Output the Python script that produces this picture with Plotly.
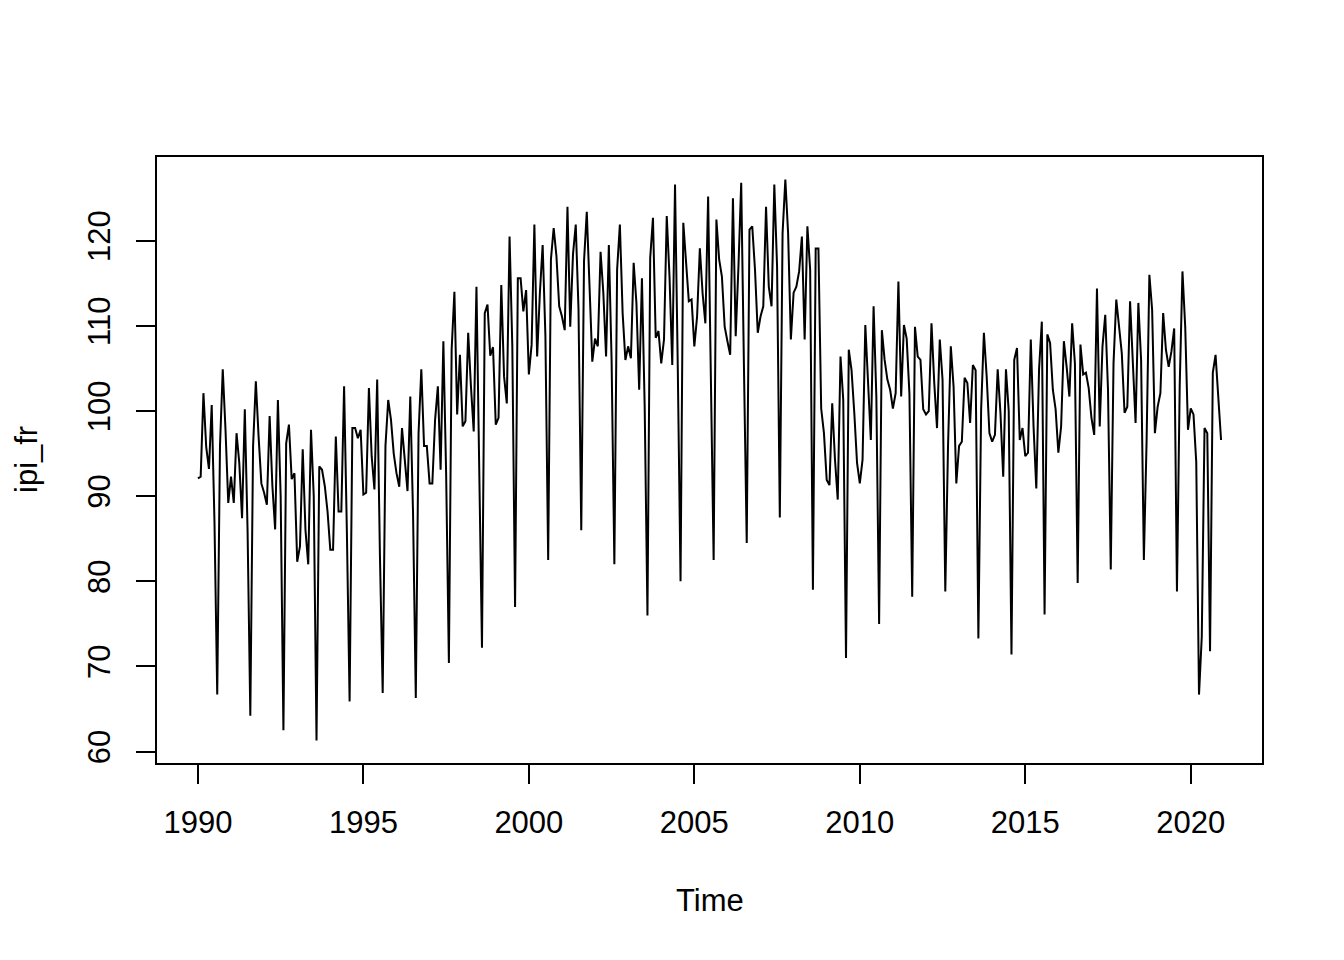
import numpy as np
import plotly.graph_objects as go

# Monthly values of ipi_fr, one list per year (Jan..Dec)
ipi_1990 = [92.1, 92.3, 102.1, 95.8, 93.2, 100.7, 87.0, 66.7, 95.9, 104.9, 97.8, 89.2]
ipi_1991 = [92.3, 89.2, 97.4, 93.9, 87.4, 100.2, 86.0, 64.2, 95.9, 103.5, 97.0, 91.5]
ipi_1992 = [90.4, 89.0, 99.4, 91.2, 86.1, 101.3, 90.0, 62.5, 96.2, 98.4, 92.0, 92.7]
ipi_1993 = [82.3, 84.1, 95.5, 86.0, 82.0, 97.8, 90.0, 61.3, 93.5, 93.1, 91.2, 88.2]
ipi_1994 = [83.7, 83.7, 97.0, 88.2, 88.2, 102.9, 86.0, 65.9, 98.0, 98.0, 96.8, 97.8]
ipi_1995 = [90.2, 90.4, 102.7, 94.7, 90.8, 103.7, 83.0, 66.9, 95.9, 101.3, 99.0, 95.0]
ipi_1996 = [92.7, 91.1, 98.0, 94.7, 90.6, 101.7, 88.0, 66.3, 97.4, 104.9, 95.9, 95.9]
ipi_1997 = [91.5, 91.5, 99.0, 102.9, 93.1, 108.2, 92.7, 70.4, 107.2, 114.0, 99.6, 106.6]
ipi_1998 = [98.2, 98.8, 109.2, 102.9, 97.6, 114.6, 94.7, 72.2, 111.5, 112.5, 106.5, 107.5]
ipi_1999 = [98.4, 99.2, 114.8, 104.1, 100.9, 120.5, 107.6, 77.0, 115.6, 115.6, 111.7, 114.2]
ipi_2000 = [104.3, 107.8, 121.9, 106.4, 113.9, 119.5, 108.8, 82.5, 117.8, 121.5, 118.2, 112.3]
ipi_2001 = [111.1, 109.5, 124.0, 109.9, 118.4, 121.9, 112.0, 86.0, 117.6, 123.4, 114.6, 105.8]
ipi_2002 = [108.5, 107.6, 118.7, 113.9, 106.4, 119.5, 106.0, 82.0, 116.6, 121.9, 111.5, 106.0]
ipi_2003 = [107.6, 106.2, 117.4, 112.7, 102.5, 115.6, 100.5, 76.0, 118.0, 122.7, 108.6, 109.4]
ipi_2004 = [105.6, 108.4, 122.9, 115.8, 105.4, 126.6, 105.0, 80.0, 122.1, 117.0, 112.9, 113.1]
ipi_2005 = [107.6, 111.1, 119.1, 113.8, 110.3, 125.2, 105.0, 82.5, 122.5, 117.8, 115.8, 109.9]
ipi_2006 = [108.2, 106.6, 125.0, 108.8, 117.0, 126.8, 105.0, 84.5, 121.3, 121.7, 116.6, 109.2]
ipi_2007 = [111.1, 112.3, 124.0, 114.6, 112.3, 126.6, 117.0, 87.5, 120.9, 127.2, 120.9, 108.4]
ipi_2008 = [113.9, 114.6, 116.4, 120.5, 108.4, 121.7, 116.6, 79.0, 119.1, 119.1, 100.3, 97.4]
ipi_2009 = [91.9, 91.3, 100.9, 94.3, 89.6, 106.4, 101.3, 71.0, 107.2, 104.8, 99.8, 93.9]
ipi_2010 = [91.5, 94.3, 110.1, 104.1, 96.6, 112.3, 101.7, 75.0, 109.5, 106.0, 103.7, 102.5]
ipi_2011 = [100.3, 102.1, 115.2, 101.7, 110.1, 108.5, 102.0, 78.2, 109.9, 106.4, 106.0, 100.2]
ipi_2012 = [99.6, 100.0, 110.3, 103.3, 98.0, 108.4, 103.7, 78.8, 96.0, 107.6, 102.9, 91.5]
ipi_2013 = [95.9, 96.4, 103.9, 103.3, 98.6, 105.4, 104.8, 73.3, 100.2, 109.2, 104.1, 97.4]
ipi_2014 = [96.4, 97.2, 104.9, 99.8, 92.3, 104.9, 100.0, 71.4, 106.0, 107.4, 96.6, 98.0]
ipi_2015 = [94.7, 95.1, 108.4, 98.2, 90.9, 104.9, 110.5, 76.1, 109.0, 108.0, 102.5, 100.2]
ipi_2016 = [95.1, 98.2, 108.2, 105.2, 101.7, 110.3, 105.6, 79.8, 107.8, 104.3, 104.5, 102.7]
ipi_2017 = [99.2, 97.2, 114.4, 98.2, 107.6, 111.3, 102.5, 81.4, 105.6, 113.1, 110.3, 106.8]
ipi_2018 = [99.8, 100.5, 112.9, 105.0, 98.6, 112.7, 106.0, 82.5, 96.6, 116.0, 111.9, 97.4]
ipi_2019 = [100.5, 102.1, 111.5, 107.2, 105.2, 107.0, 109.7, 78.8, 103.0, 116.4, 109.9, 97.8]
ipi_2020 = [100.3, 99.6, 94.0, 66.7, 73.5, 98.0, 97.4, 71.8, 104.5, 106.6, 102.1, 96.6]

start_year = 1990
x_tick_values = [1990, 1995, 2000, 2005, 2010, 2015, 2020]
y_tick_values = [60, 70, 80, 90, 100, 110, 120]

years = [ipi_1990, ipi_1991, ipi_1992, ipi_1993, ipi_1994, ipi_1995, ipi_1996,
         ipi_1997, ipi_1998, ipi_1999, ipi_2000, ipi_2001, ipi_2002, ipi_2003,
         ipi_2004, ipi_2005, ipi_2006, ipi_2007, ipi_2008, ipi_2009, ipi_2010,
         ipi_2011, ipi_2012, ipi_2013, ipi_2014, ipi_2015, ipi_2016, ipi_2017,
         ipi_2018, ipi_2019, ipi_2020]
ipi_fr = np.concatenate([np.array(y, dtype=float) for y in years])
time = start_year + np.arange(len(ipi_fr)) / 12.0

# R-style axis ranges (data range extended by 4% each side)
def r_range(v):
    lo, hi = float(np.min(v)), float(np.max(v))
    d = (hi - lo) * 0.04
    return [lo - d, hi + d]

FONT = "Liberation Sans, Arial, sans-serif"
FS = 31

fig = go.Figure()
fig.add_trace(go.Scatter(x=time, y=ipi_fr, mode="lines",
                         line=dict(color="black", width=2.0),
                         showlegend=False, hoverinfo="x+y"))

axis_common = dict(showgrid=False, zeroline=False, showline=True, mirror=True,
                   linecolor="black", linewidth=2, ticks="outside",
                   ticklen=19, tickwidth=2, tickcolor="black",
                   tickfont=dict(family=FONT, size=FS, color="black"))

# the page body has an 8px margin, so the figure is sized/margined accordingly
fig.update_layout(
    width=1336, height=952,
    margin=dict(l=149, r=82, t=149, b=197, autoexpand=False),
    paper_bgcolor="white", plot_bgcolor="white",
    xaxis=dict(range=r_range(time), tickmode="array", tickvals=x_tick_values,
               ticktext=[str(v) for v in x_tick_values],
               ticklabelstandoff=12, **axis_common),
    yaxis=dict(range=r_range(ipi_fr), tickmode="array", tickvals=y_tick_values,
               ticktext=[str(v) for v in y_tick_values], tickangle=-90,
               ticklabelstandoff=14, **axis_common),
    annotations=[
        dict(text="Time", xref="paper", yref="paper", x=0.5, y=0, yshift=-137,
             showarrow=False, xanchor="center", yanchor="middle",
             font=dict(family=FONT, size=FS, color="black")),
        dict(text="ipi_fr", xref="paper", yref="paper", x=0, y=0.5, xshift=-131,
             showarrow=False, xanchor="center", yanchor="middle", textangle=-90,
             borderpad=0,
             font=dict(family=FONT, size=FS, color="black")),
    ],
)

fig.write_html("out.html")
